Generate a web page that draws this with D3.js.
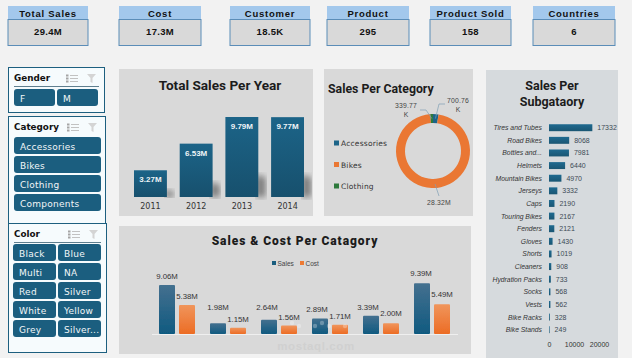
<!DOCTYPE html>
<html lang="en">
<head>
<meta charset="utf-8">
<title>Sales Dashboard</title>
<script src="https://d3js.org/d3.v7.min.js"></script>
<style>
  html, body { margin: 0; padding: 0; background: #f2f2f2; overflow: hidden; }
  svg { display: block; }
  text { font-family: "Liberation Sans", Arial, sans-serif; fill: #222; }
  .title { font-family: Roboto, sans-serif; font-weight: 700; fill: #1c1c1c; }
</style>
</head>
<body>
<div id="dashboard"></div>
<script>

// KPI cards
var kpiNames = ["Total Sales", "Cost", "Customer", "Product", "Product Sold", "Countries"];
var kpiValues = ["29.4M", "17.3M", "18.5K", "295", "158", "6"];

// slicers
var genders = ["F", "M"];
var categories = ["Accessories", "Bikes", "Clothing", "Components"];
var colors = ["Black", "Blue", "Multi", "NA", "Red", "Silver", "White", "Yellow", "Grey", "Silver..."];

// sales per year
var years = ["2011", "2012", "2013", "2014"];
var yearSales = [3.27, 6.53, 9.79, 9.77];

// sales per category (donut)
var donutNames = ["Accessories", "Bikes", "Clothing"];
var donutValues = [700760, 28320000, 339770];

// sales per subcategory
var subNames = ["Tires and Tubes", "Road Bikes", "Bottles and...", "Helmets", "Mountain Bikes", "Jerseys", "Caps",
  "Touring Bikes", "Fenders", "Gloves", "Shorts", "Cleaners", "Hydration Packs", "Socks", "Vests", "Bike Racks", "Bike Stands"];
var subValues = [17332, 8068, 7981, 6440, 4970, 3332, 2190, 2167, 2121, 1430, 1019, 908, 733, 568, 562, 328, 249];
var subTicks = [0, 10000, 20000];

// sales & cost (the reference shows no category names on this axis)
var groups = ["A", "B", "C", "D", "E", "F"];
var groupSales = [9.06, 1.98, 2.64, 2.89, 3.39, 9.39];
var groupCost = [5.38, 1.15, 1.56, 1.71, 2.00, 5.49];

var blue = "#1b5e7f";
var orange = "#ee7a33";

var svg = d3.select("#dashboard").append("svg")
  .attr("width", 632)
  .attr("height", 358);

var defs = svg.append("defs");

function gradient(id, top, bottom) {
  var g = defs.append("linearGradient").attr("id", id)
    .attr("x1", 0).attr("x2", 0).attr("y1", 0).attr("y2", 1);
  g.append("stop").attr("offset", "0%").attr("stop-color", top);
  g.append("stop").attr("offset", "100%").attr("stop-color", bottom);
}
gradient("yearBar", "#1c6488", "#17506d");
gradient("salesBar", "#44708f", "#105a80");
gradient("costBar", "#f0955c", "#ec6c24");
gradient("subBar", "#1f6a90", "#1a5673");

defs.append("filter").attr("id", "soft").append("feGaussianBlur").attr("stdDeviation", 3);
defs.append("filter").attr("id", "softer").append("feGaussianBlur").attr("stdDeviation", 0.5);

// ---------- KPI cards ----------
var kpiLeft = [8, 119, 230, 327, 430, 533];
var kpiWidth = [80, 82, 80, 82, 81, 82];

var kpi = svg.selectAll(".kpi")
  .data(kpiNames)
  .enter().append("g")
  .attr("class", "kpi")
  .attr("transform", function (d, i) { return "translate(" + kpiLeft[i] + ",6)"; });

kpi.append("rect")
  .attr("width", function (d, i) { return kpiWidth[i]; })
  .attr("height", 13)
  .attr("fill", "#a3c8ec");

kpi.append("rect")
  .attr("y", 13.5)
  .attr("width", function (d, i) { return kpiWidth[i]; })
  .attr("height", 26)
  .attr("fill", "#d9d9d9")
  .attr("stroke", "#5b8db8");

kpi.append("text")
  .attr("x", function (d, i) { return kpiWidth[i] / 2; })
  .attr("y", 11)
  .attr("text-anchor", "middle")
  .style("font-size", "9.5px")
  .style("font-weight", "bold")
  .style("letter-spacing", "0.75px")
  .style("fill", "#111")
  .text(function (d) { return d; });

kpi.append("text")
  .attr("x", function (d, i) { return kpiWidth[i] / 2; })
  .attr("y", 29)
  .attr("text-anchor", "middle")
  .style("font-size", "9.5px")
  .style("font-weight", "bold")
  .style("letter-spacing", "0.3px")
  .style("fill", "#111")
  .text(function (d, i) { return kpiValues[i]; });

// ---------- slicers ----------
function slicer(opts) {
  var g = svg.append("g");
  g.append("rect")
    .attr("x", opts.x + 0.5).attr("y", opts.y + 0.5)
    .attr("width", opts.w).attr("height", opts.h)
    .attr("fill", "#f6fbfd")
    .attr("stroke", "#1d5f7f");

  g.append("text")
    .attr("x", opts.x + 6).attr("y", opts.y + 14)
    .style("font-family", "'DejaVu Sans', sans-serif")
    .style("font-size", "8.8px")
    .style("font-weight", "bold")
    .style("fill", "#111")
    .text(opts.title);

  if (opts.rule) {
    g.append("line")
      .attr("x1", opts.x + 6).attr("x2", opts.x + opts.w - 5)
      .attr("y1", opts.y + 19.5).attr("y2", opts.y + 19.5)
      .attr("stroke", "#5f7f8f");
  }

  // multi-select and clear-filter icons
  var ix = opts.x + opts.w - 38;
  d3.range(3).forEach(function (k) {
    g.append("line")
      .attr("x1", ix + 4).attr("x2", ix + 12)
      .attr("y1", opts.y + 8.5 + k * 3).attr("y2", opts.y + 8.5 + k * 3)
      .attr("stroke", "#c2c2c2");
    g.append("rect")
      .attr("x", ix).attr("y", opts.y + 7.5 + k * 3)
      .attr("width", 2.5).attr("height", 2)
      .attr("fill", "#a5a5a5");
  });
  g.append("path")
    .attr("d", "M" + (ix + 21) + "," + (opts.y + 7) + "h9l-3.5,4v5l-2,-1v-4z")
    .attr("fill", "#d4d4d4");

  var cellW = opts.bw;
  g.selectAll(".btn")
    .data(opts.items)
    .enter().append("g")
    .attr("transform", function (d, i) {
      var col = i % opts.cols, row = Math.floor(i / opts.cols);
      return "translate(" + (opts.bx + col * (cellW + opts.gap)) + "," + (opts.by + row * 19) + ")";
    })
    .each(function (d) {
      var b = d3.select(this);
      b.append("rect")
        .attr("width", cellW).attr("height", 17).attr("rx", 3)
        .attr("fill", blue);
      b.append("text")
        .attr("x", 6).attr("y", 12.5)
        .style("font-family", "'DejaVu Sans', sans-serif")
        .style("font-size", "9px")
        .style("letter-spacing", "0.25px")
        .style("fill", "#f2f6f8")
        .text(d);
    });
}

slicer({ x: 8, y: 67, w: 96, h: 45, title: "Gender", items: genders, cols: 2, bx: 14, by: 89, bw: 41, gap: 2, rule: true });
slicer({ x: 8, y: 116, w: 97, h: 107, title: "Category", items: categories, cols: 1, bx: 14, by: 137, bw: 87, gap: 0, rule: false });
slicer({ x: 8, y: 223, w: 98, h: 129, title: "Color", items: colors, cols: 2, bx: 13, by: 244, bw: 43, gap: 2, rule: true });

// ---------- panels ----------
function panel(x, y, w, h, fill) {
  svg.append("rect").attr("x", x).attr("y", y).attr("width", w).attr("height", h).attr("fill", fill || "#d9d9d9");
}
panel(119, 69, 194, 147);
panel(324, 69, 149, 147);
panel(486, 70, 132, 288, "#d6dadd");
panel(119, 226, 352, 128);

// ---------- total sales per year ----------
svg.append("text").attr("class", "title")
  .attr("x", 220).attr("y", 90)
  .attr("text-anchor", "middle")
  .style("font-size", "13.6px")
  .text("Total Sales Per Year");

var yearX = d3.scaleBand().domain(years).range([134, 304]).paddingInner(0.28).paddingOuter(0);
var yearY = d3.scaleLinear().domain([0, 9.79]).range([197, 117]);

// soft shadow to the right of each bar
svg.append("g").selectAll("path")
  .data(years)
  .enter().append("path")
  .attr("filter", "url(#soft)")
  .attr("fill", "#5f5f5f")
  .attr("opacity", 0.8)
  .attr("d", function (d, i) {
    var right = yearX(d) + yearX.bandwidth();
    var h = (197 - yearY(yearSales[i])) * 0.28;
    return "M" + (right - 2) + ",197v" + (-h) + "l9,3v" + (h - 3) + "z";
  });

svg.append("g").selectAll("rect")
  .data(years)
  .enter().append("rect")
  .attr("x", function (d) { return yearX(d); })
  .attr("width", yearX.bandwidth())
  .attr("y", function (d, i) { return yearY(yearSales[i]); })
  .attr("height", function (d, i) { return 197 - yearY(yearSales[i]); })
  .attr("fill", "url(#yearBar)");

svg.append("g").selectAll("text")
  .data(years)
  .enter().append("text")
  .attr("x", function (d) { return yearX(d) + yearX.bandwidth() / 2; })
  .attr("y", function (d, i) { return yearY(yearSales[i]) + 12; })
  .attr("text-anchor", "middle")
  .style("font-size", "8px")
  .style("font-weight", "bold")
  .style("fill", "#eef4f7")
  .text(function (d, i) { return yearSales[i].toFixed(2) + "M"; });

var yearAxis = svg.append("g")
  .attr("transform", "translate(0,197)")
  .call(d3.axisBottom(yearX).tickSize(0).tickPadding(6));
yearAxis.select(".domain").remove();
yearAxis.selectAll("text")
  .style("font-family", "'DejaVu Sans', sans-serif")
  .style("font-size", "8px")
  .style("fill", "#333");

// ---------- sales per category ----------
svg.append("text").attr("class", "title")
  .attr("x", 328).attr("y", 93)
  .style("font-size", "12.3px")
  .text("Sales Per Category");

var donutColor = d3.scaleOrdinal().domain(donutNames).range(["#1c6488", "#ea7733", "#2e7a3c"]);
var pie = d3.pie().sort(null).value(function (d, i) { return d; });
var arc = d3.arc().innerRadius(28).outerRadius(37);

var donut = svg.append("g").attr("transform", "translate(433,151)");
donut.selectAll("path")
  .data(pie(donutValues))
  .enter().append("path")
  .attr("d", arc)
  .attr("fill", function (d, i) { return donutColor(donutNames[i]); });

// leader lines go from the slice centre to the label
var leaderColor = "#7f9fb5";
var arcs = pie(donutValues);
function leader(slice, tx, ty, kx) {
  var c = arc.centroid(slice);
  donut.append("path")
    .attr("fill", "none")
    .attr("stroke", leaderColor)
    .attr("stroke-width", 0.7)
    .attr("d", "M" + c[0] + "," + c[1] + "L" + kx + "," + ty + "L" + tx + "," + ty);
}
leader(arcs[0], 12, -47, 6);
leader(arcs[2], -13, -41, -7);
svg.append("line")
  .attr("x1", 433 + 2).attr("y1", 151 + 33)
  .attr("x2", 433 + 6).attr("y2", 151 + 45)
  .attr("stroke", leaderColor).attr("stroke-width", 0.7);

var donutLabels = [
  { lines: ["700.76", "K"], x: 458, y: 102.5 },
  { lines: ["339.77", "K"], x: 406, y: 107.5 },
  { lines: ["28.32M"], x: 439, y: 204.5 }
];
donutLabels.forEach(function (l) {
  l.lines.forEach(function (t, i) {
    svg.append("text")
      .attr("x", l.x).attr("y", l.y + i * 9)
      .attr("text-anchor", "middle")
      .style("font-size", "6.8px")
      .style("letter-spacing", "0.2px")
      .style("fill", "#444")
      .text(t);
  });
});

var legend = svg.append("g").selectAll("g")
  .data(donutNames)
  .enter().append("g")
  .attr("transform", function (d, i) { return "translate(334," + (143 + i * 21.5) + ")"; });
legend.append("rect")
  .attr("x", 0).attr("y", -2.5)
  .attr("width", 5).attr("height", 5)
  .attr("fill", function (d) { return donutColor(d); });
legend.append("text")
  .attr("x", 7).attr("y", 3)
  .style("font-family", "'DejaVu Sans', sans-serif")
  .style("font-size", "7.5px")
  .style("letter-spacing", "0.2px")
  .style("fill", "#333")
  .text(function (d) { return d; });

// ---------- sales per subcategory ----------
svg.append("text").attr("class", "title")
  .attr("x", 552).attr("y", 90)
  .attr("text-anchor", "middle")
  .style("font-size", "12.5px")
  .text("Sales Per");
svg.append("text").attr("class", "title")
  .attr("x", 552).attr("y", 106)
  .attr("text-anchor", "middle")
  .style("font-size", "12.5px")
  .text("Subgataory");

var subX = d3.scaleLinear().domain([0, 20000]).range([549, 599]);
var subY = d3.scaleBand().domain(subNames).range([121.4, 336]).paddingInner(0.45).paddingOuter(0.225);

svg.append("g").selectAll("rect")
  .data(subNames)
  .enter().append("rect")
  .attr("x", subX(0))
  .attr("y", function (d) { return subY(d); })
  .attr("width", function (d, i) { return subX(subValues[i]) - subX(0); })
  .attr("height", subY.bandwidth())
  .attr("fill", "url(#subBar)");

svg.append("g").selectAll("text")
  .data(subNames)
  .enter().append("text")
  .attr("x", 542)
  .attr("y", function (d) { return subY(d) + subY.bandwidth() / 2 + 2.5; })
  .attr("text-anchor", "end")
  .style("font-size", "6.8px")
  .style("font-style", "italic")
  .style("fill", "#333")
  .text(function (d) { return d; });

svg.append("g").selectAll("text")
  .data(subNames)
  .enter().append("text")
  .attr("x", function (d, i) { return subX(subValues[i]) + 5; })
  .attr("y", function (d) { return subY(d) + subY.bandwidth() / 2 + 2.5; })
  .style("font-size", "7px")
  .style("fill", "#3c4a55")
  .text(function (d, i) { return subValues[i]; });

var subAxis = svg.append("g")
  .attr("transform", "translate(0,337)")
  .call(d3.axisBottom(subX).tickValues(subTicks).tickSize(0).tickPadding(5).tickFormat(d3.format("d")));
subAxis.select(".domain").remove();
subAxis.selectAll("text")
  .style("font-family", "'Liberation Sans', sans-serif")
  .style("font-size", "7px")
  .style("fill", "#333");

// ---------- sales & cost ----------
svg.append("text").attr("class", "title")
  .attr("x", 295).attr("y", 245)
  .attr("text-anchor", "middle")
  .style("font-size", "12px")
  .style("letter-spacing", "0.95px")
  .style("font-weight", 900)
  .text("Sales & Cost Per Catagory");

var keyNames = ["Sales", "Cost"];
var keyFill = [blue, orange];
var key = svg.append("g").selectAll("g")
  .data(keyNames)
  .enter().append("g")
  .attr("transform", function (d, i) { return "translate(" + (272 + i * 28) + ",263)"; });
key.append("rect").attr("y", -2).attr("width", 4).attr("height", 4)
  .attr("fill", function (d, i) { return keyFill[i]; });
key.append("text").attr("x", 5.5).attr("y", 2.5)
  .style("font-size", "6.5px").style("fill", "#444")
  .text(function (d) { return d; });

var groupX = d3.scaleBand().domain(groups).range([151, 457]).paddingInner(0).paddingOuter(0);
var valueY = d3.scaleLinear().domain([0, 10]).range([334, 280]);

svg.append("line")
  .attr("x1", 152).attr("x2", 458).attr("y1", 334.5).attr("y2", 334.5)
  .attr("stroke", "#efefef");

function groupBars(values, dx, fill) {
  svg.append("g").selectAll("rect")
    .data(groups)
    .enter().append("rect")
    .attr("x", function (d) { return groupX(d) + dx; })
    .attr("width", 16)
    .attr("y", function (d, i) { return valueY(values[i]); })
    .attr("height", function (d, i) { return 334 - valueY(values[i]); })
    .attr("rx", 1)
    .attr("filter", "url(#softer)")
    .attr("fill", fill);
}
groupBars(groupSales, 8, "url(#salesBar)");
groupBars(groupCost, 28, "url(#costBar)");

// labels were nudged by hand in the original so they clear each other
var salesLift = [6, 13, 10, 6, 6, 7];
var salesShift = [0, 0, -2, -3, -3, -1];
var costLift = [6, 6, 6, 6, 7, 7];
var costShift = [0, 0, 0, 0, 0, 0];

function groupLabels(values, dx, lift, shift) {
  svg.append("g").selectAll("text")
    .data(groups)
    .enter().append("text")
    .attr("x", function (d, i) { return groupX(d) + dx + shift[i]; })
    .attr("y", function (d, i) { return valueY(values[i]) - lift[i]; })
    .attr("text-anchor", "middle")
    .style("font-size", "7.8px")
    .style("fill", "#333")
    .text(function (d, i) { return values[i].toFixed(2) + "M"; });
}
groupLabels(groupSales, 16, salesLift, salesShift);
groupLabels(groupCost, 36, costLift, costShift);

// site watermark
var markDots = [[315, 326], [322, 323], [329, 326], [292, 323], [299, 326], [345, 326]];
svg.append("g").selectAll("circle")
  .data(markDots)
  .enter().append("circle")
  .attr("cx", function (d) { return d[0]; })
  .attr("cy", function (d) { return d[1]; })
  .attr("r", 2.2)
  .attr("fill", "#fff")
  .attr("opacity", 0.28);

svg.append("text")
  .attr("x", 316).attr("y", 350)
  .attr("text-anchor", "middle")
  .style("font-size", "11.5px")
  .style("font-weight", "bold")
  .style("letter-spacing", "0.6px")
  .style("fill", "#d0d0d0")
  .text("mostaql.com");

</script>
</body>
</html>
